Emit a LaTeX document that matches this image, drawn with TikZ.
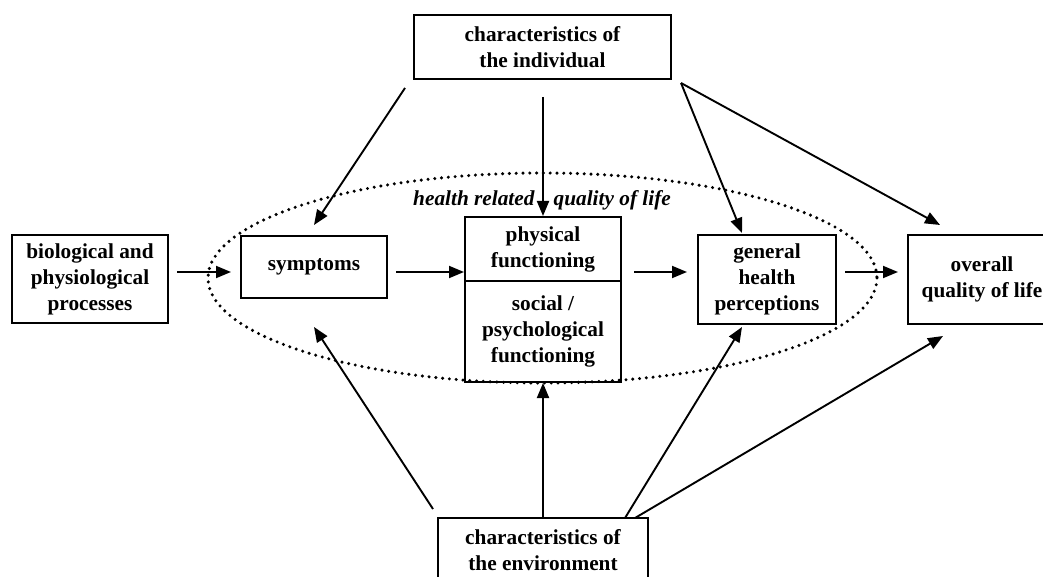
\documentclass[tikz,border=0pt]{standalone}
\usepackage{fontspec}
\setmainfont{Liberation Serif}
\usetikzlibrary{arrows.meta}
\begin{document}
\begin{tikzpicture}[x=1pt, y=-1pt, every node/.style={ draw, line width=2pt, align=center, inner sep=0pt, font=\fontsize{21.3}{26}\selectfont\bfseries }, arr/.style={ -{Triangle[length=15pt, width=12pt]}, line width=1.9pt }]
		\useasboundingbox (0,0) rectangle (1043,577);
		\draw[line width=3.4pt, line cap=round, dash pattern=on 0pt off 6.8pt] (542.5,278) ellipse [x radius=334.5, y radius=105];
		\node[draw=none] (hrql) at (542,200) {\itshape health related\hspace{0.9em}quality of life};
		\node[minimum width=257, minimum height=64] (ind) at (542.5,47) {characteristics of\\the individual};
		\node[minimum width=210, minimum height=64] (env) at (543,550) {characteristics of\\the environment};
		\node[minimum width=156, minimum height=88] (bio) at (90,279) {biological and\\physiological\\processes};
		\node[minimum width=146, minimum height=62] (sym) at (314,267) {symptoms};
		\node[minimum width=156, minimum height=64] (phys) at (543,249) {physical\\functioning};
		\node[minimum width=156, minimum height=101] (soc) at (543,331.5) {social /\\psychological\\functioning};
		\node[minimum width=138, minimum height=89] (gen) at (767,279.5) {general\\health\\perceptions};
		\node[minimum width=148, minimum height=89] (qol) at (982,279.5) {overall\\quality of life};
		\coordinate (row) at (0,272);
		\draw[arr, shorten <=8pt, shorten >=9pt] (bio.east |- row) -- (sym.west |- row);
		\draw[arr, shorten <=8pt] (sym.east |- row) -- (phys.west |- row);
		\draw[arr, shorten <=12pt, shorten >=10pt] (phys.east |- row) -- (gen.west |- row);
		\draw[arr, shorten <=8pt, shorten >=9pt] (gen.east |- row) -- (qol.west |- row);
		\coordinate (ind-l) at (405,88);
		\coordinate (ind-m) at (543,97);
		\coordinate (ind-r) at (681,83);
		\coordinate (sym-t) at (314,225);
		\coordinate (gen-t) at (742,233);
		\coordinate (qol-t) at (940,225);
		\draw[arr] (ind-l) -- (sym-t);
		\draw[arr] (ind-m) -- (phys.north);
		\draw[arr] (ind-r) -- (gen-t);
		\draw[arr] (ind-r) -- (qol-t);
		\coordinate (env-l) at (433,509);
		\coordinate (env-r1) at (625,518);
		\coordinate (env-r2) at (635,518);
		\coordinate (sym-b) at (314,327);
		\coordinate (gen-b) at (742,327);
		\coordinate (qol-b) at (943,336);
		\draw[arr] (env-l) -- (sym-b);
		\draw[arr] (env.north) -- (soc.south);
		\draw[arr] (env-r1) -- (gen-b);
		\draw[arr] (env-r2) -- (qol-b);
	\end{tikzpicture}
\end{document}
